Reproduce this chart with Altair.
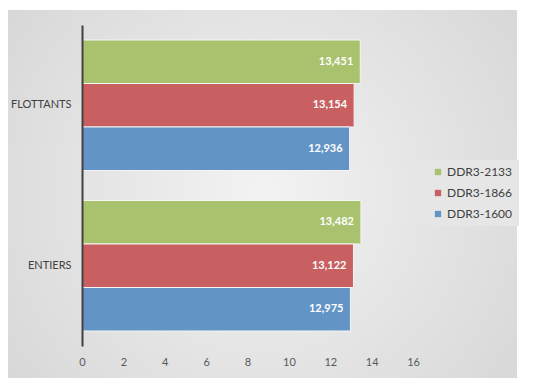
import altair as alt
import pandas as pd

categories = ["FLOTTANTS", "FLOTTANTS", "FLOTTANTS", "ENTIERS", "ENTIERS", "ENTIERS"]
series = ["DDR3-2133", "DDR3-1866", "DDR3-1600", "DDR3-2133", "DDR3-1866", "DDR3-1600"]
values = [13.451, 13.154, 12.936, 13.482, 13.122, 12.975]
cat_order = ["FLOTTANTS", "ENTIERS"]
series_order = ["DDR3-2133", "DDR3-1866", "DDR3-1600"]
series_colors = ["#a9c26d", "#c86062", "#6294c6"]
x_ticks = [0, 2, 4, 6, 8, 10, 12, 14, 16]

df = pd.DataFrame({
    "cat": categories,
    "series": series,
    "value": values,
    "label": [f"{v:.3f}".replace(".", ",") for v in values],
})

FONT = "Lato"

bg = alt.Chart(alt.Data(values=[{"a": 1}])).mark_rect(
    color=alt.RadialGradient(
        gradient="radial",
        stops=[alt.GradientStop(color="#f3f3f3", offset=0),
               alt.GradientStop(color="#d2d2d2", offset=1)],
        x1=0.5, y1=0.5, x2=0.5, y2=0.5, r1=0, r2=0.75,
    )
).encode(
    x=alt.value(-74), x2=alt.value(435), y=alt.value(-15), y2=alt.value(353)
)

y_enc = alt.Y("cat:N", sort=cat_order, title=None,
              scale=alt.Scale(paddingInner=0.187, paddingOuter=0.0935),
              axis=alt.Axis(domainColor="#404040", domainWidth=2, ticks=False,
                            labelPadding=11, labelFontSize=11, labelColor="#404040",
                            labelFont=FONT, zindex=2))
yoff = alt.YOffset("series:N", sort=series_order,
                   scale=alt.Scale(paddingInner=0, paddingOuter=0))
x_enc = alt.X("value:Q", title=None, scale=alt.Scale(domain=[0, 16], nice=False),
              axis=alt.Axis(values=x_ticks, grid=False, domain=False, ticks=False,
                            labelPadding=10, labelFontSize=11, labelColor="#595959",
                            labelFont=FONT, format="d", zindex=2, labelFlush=False))

bars = alt.Chart(df).mark_bar(stroke="#f4f4f4", strokeWidth=1).encode(
    y=y_enc, yOffset=yoff, x=x_enc,
    color=alt.Color("series:N", sort=series_order,
                    scale=alt.Scale(domain=series_order, range=series_colors),
                    legend=alt.Legend(title=None, orient="none", legendX=344, legendY=135,
                                      fillColor="#e6e6e6", padding=6,
                                      symbolType="square", symbolSize=40,
                                      symbolStrokeWidth=0,
                                      labelFontSize=12, labelColor="#404040",
                                      labelFont=FONT, rowPadding=9, labelOffset=3)),
)

text = alt.Chart(df).mark_text(align="right", baseline="middle", dx=-7,
                               color="white", fontWeight="bold", fontSize=11,
                               font=FONT).encode(
    y=alt.Y("cat:N", sort=cat_order), yOffset=yoff, x="value:Q", text="label:N"
)

chart = alt.layer(bg, bars, text).properties(
    width=331, height=321,
    autosize=alt.AutoSizeParams(type="none"),
    padding={"left": 82, "top": 25, "right": 120, "bottom": 39},
).configure(background="white").configure_view(stroke=None)

chart.save("out.html", embed_options={"renderer": "svg", "actions": False})
